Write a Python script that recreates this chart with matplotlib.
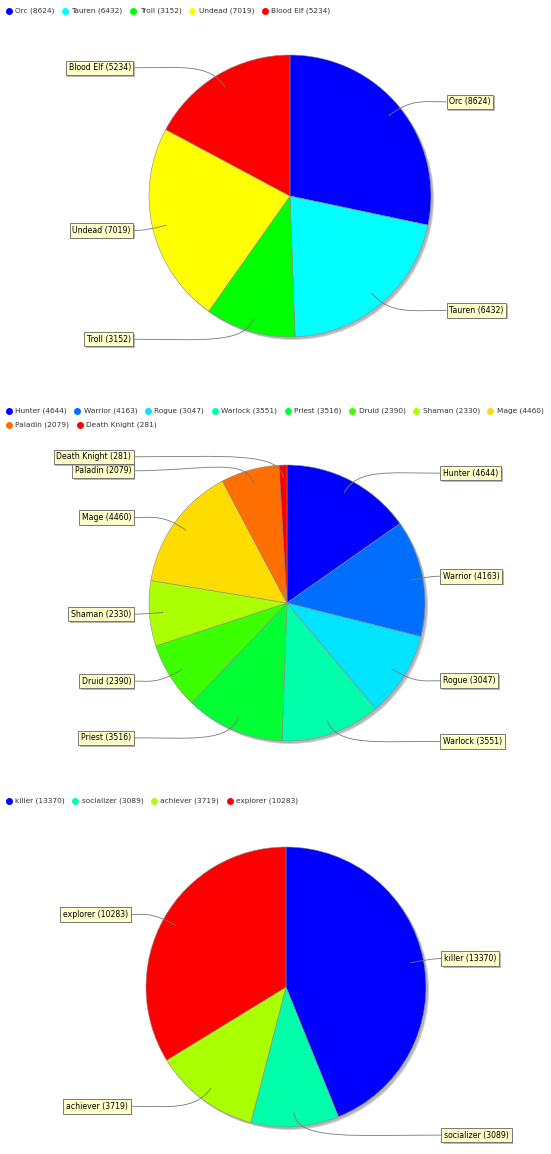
import numpy as np
import matplotlib
matplotlib.use('Agg')
import matplotlib.pyplot as plt
from matplotlib.path import Path
from matplotlib.patches import PathPatch, Circle
import matplotlib.patheffects as pe

# chart data
race_names = ['Orc', 'Tauren', 'Troll', 'Undead', 'Blood Elf']
race_counts = [8624, 6432, 3152, 7019, 5234]
race_colors = ['#0000ff', '#00ffff', '#00ff00', '#ffff00', '#ff0000']

class_names = ['Hunter', 'Warrior', 'Rogue', 'Warlock', 'Priest', 'Druid',
               'Shaman', 'Mage', 'Paladin', 'Death Knight']
class_counts = [4644, 4163, 3047, 3551, 3516, 2390, 2330, 4460, 2079, 281]
class_colors = ['#0000ff', '#006eff', '#00e4ff', '#00ffaa', '#00ff33',
                '#3cff00', '#aaff00', '#ffdc00', '#ff6e00', '#ff0000']

type_names = ['killer', 'socializer', 'achiever', 'explorer']
type_counts = [13370, 3089, 3719, 10283]
type_colors = ['#0000ff', '#00ffaa', '#aaff00', '#ff0000']

W, H = 551, 1154
fig = plt.figure(figsize=(W / 100, H / 100), dpi=100)
ax = fig.add_axes([0, 0, 1, 1])
LABEL_FS = 5.6
LEGEND_FS = 5.3


def Y(y):
    # pixel row (from top) -> data y (from bottom)
    return H - y


def legend(names, counts, colors, rows_y, x0=5, xmax=550):
    renderer = fig.canvas.get_renderer()
    x = x0
    row = 0
    for n, c, col in zip(names, counts, colors):
        s = '%s (%d)' % (n, c)
        t = ax.text(0, 0, s, fontsize=LEGEND_FS, color='#333333', va='center')
        w = t.get_window_extent(renderer).width
        if x + 10 + w > xmax:
            row += 1
            x = x0
        y = Y(rows_y[row])
        t.set_position((x + 10, y))
        ax.plot(x + 3.5, y, 'o', ms=4.0, color=col, mec=col)
        x += 10 + w + 7


def pie(names, counts, colors, cx, cy, r):
    cyd = Y(cy)
    # shadow
    ax.add_patch(Circle((cx + 3, cyd - 3), r, color='#cfcfcf', lw=0, zorder=0))
    ax.add_patch(Circle((cx + 2, cyd - 2), r, color='#b4b4b4', lw=0, zorder=0))
    ax.pie(counts, colors=colors, center=(cx, cyd), radius=r, startangle=90,
           counterclock=False,
           wedgeprops=dict(edgecolor='#8a8a8a', linewidth=0.4))
    total = float(sum(counts))
    cum = np.cumsum(counts) - np.array(counts) / 2.0
    theta = cum / total * 2 * np.pi  # clockwise from top
    items = []
    for n, c, th in zip(names, counts, theta):
        side = 1 if np.sin(th) >= 0 else -1
        ly = cy - np.cos(th) * 1.06 * r
        items.append([side, ly, '%s (%d)' % (n, c), th])
    # push overlapping labels apart
    for side in (1, -1):
        grp = sorted([it for it in items if it[0] == side], key=lambda it: it[1])
        for a, b in zip(grp, grp[1:]):
            if b[1] - a[1] < 14:
                b[1] = a[1] + 14
    pad = 0.35
    pad_px = pad * LABEL_FS * 100 / 72
    for side, ly, s, th in items:
        edge = cx + side * 1.11 * r
        tx = edge + side * pad_px
        t = ax.text(tx, Y(ly), s, fontsize=LABEL_FS, color='black',
                    ha='left' if side > 0 else 'right', va='center', zorder=6,
                    bbox=dict(boxstyle='square,pad=%s' % pad, fc='#ffffcc',
                              ec='#666666', lw=0.6))
        t.get_bbox_patch().set_path_effects(
            [pe.SimplePatchShadow(offset=(1.2, -1.2), shadow_rgbFace='#888888', alpha=0.6),
             pe.Normal()])
        ax_, ay_ = cx + np.sin(th) * 0.9 * r, cyd + np.cos(th) * 0.9 * r
        ex, ey = cx + np.sin(th) * 1.1 * r, cyd + np.cos(th) * 1.1 * r
        p0 = (edge, Y(ly))
        p1 = (edge + (ex - edge) * 0.6, Y(ly))
        verts = [p0, p1, (ex, ey), (ax_, ay_)]
        path = Path(verts, [Path.MOVETO, Path.CURVE4, Path.CURVE4, Path.CURVE4])
        ax.add_patch(PathPatch(path, fc='none', ec='#777777', lw=0.6, zorder=5))


pie(race_names, race_counts, race_colors, 290, 196, 141)
pie(class_names, class_counts, class_colors, 287, 603, 138)
pie(type_names, type_counts, type_colors, 286, 987, 140)

ax.set_xlim(0, W)
ax.set_ylim(0, H)
ax.set_aspect('auto')
ax.axis('off')

legend(race_names, race_counts, race_colors, [11])
legend(class_names, class_counts, class_colors, [410.5, 424.5])
legend(type_names, type_counts, type_colors, [801])

fig.savefig('out.png', dpi=100, facecolor='white')
